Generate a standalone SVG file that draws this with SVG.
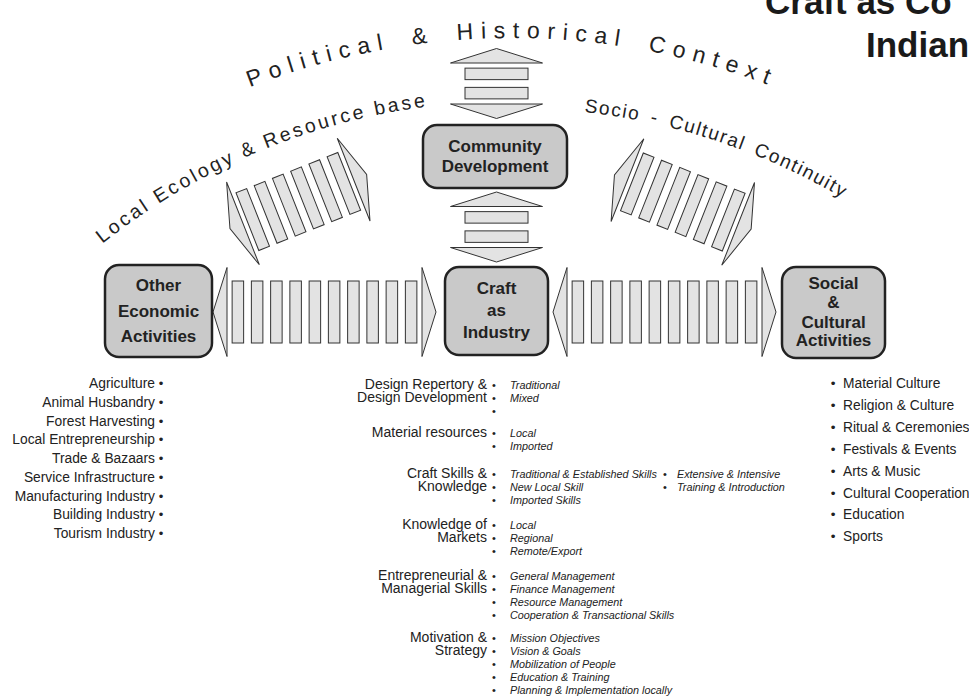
<svg xmlns="http://www.w3.org/2000/svg" width="969" height="698" viewBox="0 0 969 698">
<style>
.bg{fill:#ffffff}
.node rect{fill:#c9c9c9;stroke:#222;stroke-width:2.5}
.nl{font-family:"Liberation Sans",Arial,sans-serif;font-weight:bold;font-size:17px;fill:#222;text-anchor:middle}
.ttl{font-family:"Liberation Sans",Arial,sans-serif;font-weight:bold;font-size:35px;fill:#1a1a1a}
.hd,.bar{fill:#e3e3e3;stroke:#333;stroke-width:1}
.arc{font-family:"Liberation Sans",Arial,sans-serif;fill:#222}
.ll{font-family:"Liberation Sans",Arial,sans-serif;font-size:13.8px;fill:#222;text-anchor:end}
.lb{font-family:"Liberation Sans",Arial,sans-serif;font-size:13px;fill:#222;text-anchor:middle}
.rl{font-family:"Liberation Sans",Arial,sans-serif;font-size:13.8px;fill:#222}
.rb{font-family:"Liberation Sans",Arial,sans-serif;font-size:13.5px;fill:#222;text-anchor:middle}
.ml{font-family:"Liberation Sans",Arial,sans-serif;font-size:14px;fill:#222;text-anchor:end}
.mb{font-family:"Liberation Sans",Arial,sans-serif;font-size:11px;fill:#222;text-anchor:middle}
.mi{font-family:"Liberation Sans",Arial,sans-serif;font-size:10.8px;font-style:italic;fill:#222}
</style>
<defs>
<path id="arcP" d="M 47.9,206.9 A 722,722 0 0,1 976.1,206.9"/>
<path id="arcL" d="M -58.7,430.5 A 659,659 0 0,1 1082.7,430.5"/>
<path id="arcS" d="M -52.6,434 A 652,652 0 0,1 1076.6,434"/>
<g id="harrow">
<polygon class="hd" points="-97.5,-44.5 -111.5,0 -97.5,44.5"/>
<polygon class="hd" points="97.5,-44.5 111.5,0 97.5,44.5"/>
<rect class="bar" x="-92.375" y="-31" width="11.5" height="62"/>
<rect class="bar" x="-73.125" y="-31" width="11.5" height="62"/>
<rect class="bar" x="-53.875" y="-31" width="11.5" height="62"/>
<rect class="bar" x="-34.625" y="-31" width="11.5" height="62"/>
<rect class="bar" x="-15.375" y="-31" width="11.5" height="62"/>
<rect class="bar" x="3.875" y="-31" width="11.5" height="62"/>
<rect class="bar" x="23.125" y="-31" width="11.5" height="62"/>
<rect class="bar" x="42.375" y="-31" width="11.5" height="62"/>
<rect class="bar" x="61.625" y="-31" width="11.5" height="62"/>
<rect class="bar" x="80.875" y="-31" width="11.5" height="62"/>
</g>
<g id="darrow">
<polygon class="hd" points="-59.5,-44.5 -73.5,0 -59.5,44.5"/>
<polygon class="hd" points="59.5,-44.5 73.5,0 59.5,44.5"/>
<rect class="bar" x="-54.75" y="-31" width="11.5" height="62"/>
<rect class="bar" x="-35.15" y="-31" width="11.5" height="62"/>
<rect class="bar" x="-15.55" y="-31" width="11.5" height="62"/>
<rect class="bar" x="4.05" y="-31" width="11.5" height="62"/>
<rect class="bar" x="23.65" y="-31" width="11.5" height="62"/>
<rect class="bar" x="43.25" y="-31" width="11.5" height="62"/>
</g>
<g id="varrow">
<polygon class="hd" points="-20.5,-46 -35,0 -20.5,46"/>
<polygon class="hd" points="20.5,-46 35,0 20.5,46"/>
<rect class="bar" x="-15.375" y="-31.5" width="11.5" height="63"/>
<rect class="bar" x="3.875" y="-31.5" width="11.5" height="63"/>
</g>
</defs>
<rect class="bg" x="0" y="0" width="969" height="698"/>

<g id="title">
<text class="ttl" x="765" y="14">Craft as Co</text>
<text class="ttl" x="866" y="57">Indian</text>
</g>

<g id="context-labels">
<text class="arc" font-size="23" letter-spacing="7.5" word-spacing="8"><textPath href="#arcP" startOffset="50%" text-anchor="middle">Political &amp; Historical Context</textPath></text>
<text class="arc" font-size="19.5" letter-spacing="2.8"><textPath href="#arcL" startOffset="427" text-anchor="middle">Local Ecology &amp; Resource base</textPath></text>
<text class="arc" font-size="19" letter-spacing="1.6" word-spacing="4"><textPath href="#arcS" startOffset="892.4" text-anchor="middle">Socio - Cultural Continuity</textPath></text>
</g>

<g id="connectors">
<use href="#varrow" transform="translate(496.5,83.5) rotate(90)"/>
<use href="#varrow" transform="translate(496.5,227) rotate(90)"/>
<use href="#darrow" transform="translate(298.3,201.5) rotate(-21.6)"/>
<use href="#darrow" transform="translate(682.8,202) rotate(21.6)"/>
<use href="#harrow" transform="translate(324.5,312)"/>
<use href="#harrow" transform="translate(664.5,312)"/>
</g>

<g id="community" class="node">
<rect x="423" y="125" width="144" height="63" rx="14"/>
<text class="nl" x="495" y="152">Community</text>
<text class="nl" x="495" y="172">Development</text>
</g>
<g id="craft" class="node">
<rect x="445" y="267" width="103" height="88" rx="14"/>
<text class="nl" x="496.5" y="294">Craft</text>
<text class="nl" x="496.5" y="316">as</text>
<text class="nl" x="496.5" y="338">Industry</text>
</g>
<g id="other" class="node">
<rect x="105" y="265" width="107" height="92" rx="14"/>
<text class="nl" x="158.5" y="291">Other</text>
<text class="nl" x="158.5" y="317">Economic</text>
<text class="nl" x="158.5" y="342">Activities</text>
</g>
<g id="social" class="node">
<rect x="782" y="267" width="103" height="91" rx="14"/>
<text class="nl" x="833.5" y="289">Social</text>
<text class="nl" x="833.5" y="308">&amp;</text>
<text class="nl" x="833.5" y="328">Cultural</text>
<text class="nl" x="833.5" y="346">Activities</text>
</g>

<g id="economic-list">
<text class="ll" x="155" y="388">Agriculture</text>
<text class="ll" x="155" y="406.75">Animal Husbandry</text>
<text class="ll" x="155" y="425.5">Forest Harvesting</text>
<text class="ll" x="155" y="444.25">Local Entrepreneurship</text>
<text class="ll" x="155" y="463">Trade &amp; Bazaars</text>
<text class="ll" x="155" y="481.75">Service Infrastructure</text>
<text class="ll" x="155" y="500.5">Manufacturing Industry</text>
<text class="ll" x="155" y="519.25">Building Industry</text>
<text class="ll" x="155" y="538">Tourism Industry</text>
<text class="lb" x="161" y="388">•</text>
<text class="lb" x="161" y="406.75">•</text>
<text class="lb" x="161" y="425.5">•</text>
<text class="lb" x="161" y="444.25">•</text>
<text class="lb" x="161" y="463">•</text>
<text class="lb" x="161" y="481.75">•</text>
<text class="lb" x="161" y="500.5">•</text>
<text class="lb" x="161" y="519.25">•</text>
<text class="lb" x="161" y="538">•</text>
</g>

<g id="social-list">
<text class="rb" x="833" y="388">•</text><text class="rl" x="843" y="388">Material Culture</text>
<text class="rb" x="833" y="409.9">•</text><text class="rl" x="843" y="409.9">Religion &amp; Culture</text>
<text class="rb" x="833" y="431.8">•</text><text class="rl" x="843" y="431.8">Ritual &amp; Ceremonies</text>
<text class="rb" x="833" y="453.7">•</text><text class="rl" x="843" y="453.7">Festivals &amp; Events</text>
<text class="rb" x="833" y="475.6">•</text><text class="rl" x="843" y="475.6">Arts &amp; Music</text>
<text class="rb" x="833" y="497.5">•</text><text class="rl" x="843" y="497.5">Cultural Cooperation</text>
<text class="rb" x="833" y="519.4">•</text><text class="rl" x="843" y="519.4">Education</text>
<text class="rb" x="833" y="541.3">•</text><text class="rl" x="843" y="541.3">Sports</text>
</g>

<g id="craft-list">
<text class="ml" x="487" y="389">Design Repertory &amp;</text>
<text class="ml" x="487" y="402">Design Development</text>
<text class="mb" x="494" y="389">•</text><text class="mb" x="494" y="402">•</text><text class="mb" x="494" y="415">•</text>
<text class="mi" x="510" y="389">Traditional</text>
<text class="mi" x="510" y="402">Mixed</text>

<text class="ml" x="487" y="437">Material resources</text>
<text class="mb" x="494" y="437">•</text><text class="mb" x="494" y="450">•</text>
<text class="mi" x="510" y="437">Local</text>
<text class="mi" x="510" y="450">Imported</text>

<text class="ml" x="487" y="478">Craft Skills &amp;</text>
<text class="ml" x="487" y="491">Knowledge</text>
<text class="mb" x="494" y="478">•</text><text class="mb" x="494" y="491">•</text><text class="mb" x="494" y="504">•</text>
<text class="mi" x="510" y="478">Traditional &amp; Established Skills</text>
<text class="mi" x="510" y="491">New Local Skill</text>
<text class="mi" x="510" y="504">Imported Skills</text>
<text class="mb" x="665" y="478">•</text><text class="mb" x="665" y="491">•</text>
<text class="mi" x="677" y="478">Extensive &amp; Intensive</text>
<text class="mi" x="677" y="491">Training &amp; Introduction</text>

<text class="ml" x="487" y="529">Knowledge of</text>
<text class="ml" x="487" y="542">Markets</text>
<text class="mb" x="494" y="529">•</text><text class="mb" x="494" y="542">•</text><text class="mb" x="494" y="555">•</text>
<text class="mi" x="510" y="529">Local</text>
<text class="mi" x="510" y="542">Regional</text>
<text class="mi" x="510" y="555">Remote/Export</text>

<text class="ml" x="487" y="580">Entrepreneurial &amp;</text>
<text class="ml" x="487" y="593">Managerial Skills</text>
<text class="mb" x="494" y="580">•</text><text class="mb" x="494" y="593">•</text><text class="mb" x="494" y="606">•</text><text class="mb" x="494" y="619">•</text>
<text class="mi" x="510" y="580">General Management</text>
<text class="mi" x="510" y="593">Finance Management</text>
<text class="mi" x="510" y="606">Resource Management</text>
<text class="mi" x="510" y="619">Cooperation &amp; Transactional Skills</text>

<text class="ml" x="487" y="642">Motivation &amp;</text>
<text class="ml" x="487" y="655">Strategy</text>
<text class="mb" x="494" y="642">•</text><text class="mb" x="494" y="655">•</text><text class="mb" x="494" y="668">•</text><text class="mb" x="494" y="681">•</text><text class="mb" x="494" y="694">•</text>
<text class="mi" x="510" y="642">Mission Objectives</text>
<text class="mi" x="510" y="655">Vision &amp; Goals</text>
<text class="mi" x="510" y="668">Mobilization of People</text>
<text class="mi" x="510" y="681">Education &amp; Training</text>
<text class="mi" x="510" y="694">Planning &amp; Implementation locally</text>
</g>
</svg>
